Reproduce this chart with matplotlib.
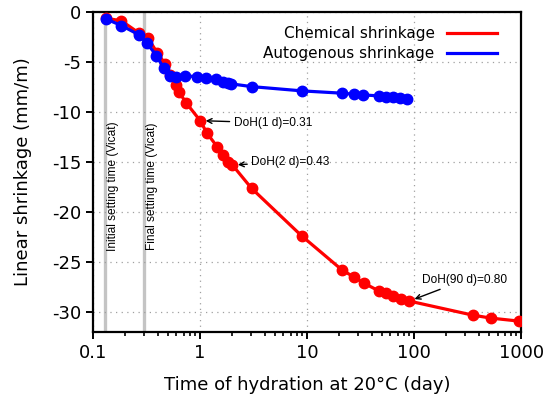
import matplotlib
matplotlib.use("Agg")
from matplotlib import pyplot as plt

plt.rcParams["axes.unicode_minus"] = False

# chemical shrinkage (red)
chem_t = [0.131, 0.184, 0.269, 0.326, 0.396, 0.474, 0.52, 0.59, 0.635, 0.745,
          1.0, 1.16, 1.44, 1.64, 1.82, 2.0, 3.02, 8.85, 21.2, 27.4, 33.8,
          47, 54.3, 63.5, 75, 90, 351, 520, 950]
chem_s = [-0.63, -0.9, -2.13, -2.63, -4.07, -5.23, -6.3, -7.3, -8.03, -9.13,
          -10.87, -12.13, -13.47, -14.3, -14.97, -15.3, -17.63, -22.37, -25.8,
          -26.5, -27.1, -27.9, -28.1, -28.4, -28.7, -28.9, -30.3, -30.6, -30.9]

# autogenous shrinkage (blue)
auto_t = [0.131, 0.184, 0.269, 0.319, 0.390, 0.457, 0.52, 0.60, 0.72, 0.925,
          1.14, 1.42, 1.64, 1.82, 1.96, 3.02, 9.0, 21.3, 27.3, 33.3, 47,
          54.5, 63.5, 73, 86.5]
auto_s = [-0.7, -1.37, -2.3, -3.13, -4.37, -5.63, -6.4, -6.47, -6.4, -6.47,
          -6.63, -6.73, -6.97, -7.07, -7.2, -7.47, -7.9, -8.13, -8.23, -8.3,
          -8.4, -8.47, -8.53, -8.63, -8.7]

# setting times (Vicat)
initial_set = 0.13
final_set = 0.30

doh_notes = [("DoH(1 d)=0.31", 1.0, -10.87, 2.06, -11.1),
             ("DoH(2 d)=0.43", 2.0, -15.3, 3.01, -15.0),
             ("DoH(90 d)=0.80", 90, -28.9, 118, -26.8)]

fig = plt.figure(figsize=(5.51, 4.08), dpi=100)
ax = fig.add_axes([0.169, 0.186, 0.777, 0.785])

ax.axvline(initial_set, color="#c4c4c4", lw=2.4, zorder=1)
ax.axvline(final_set, color="#c4c4c4", lw=2.4, zorder=1)
ax.text(initial_set * 1.17, -17.4, "Initial setting time (Vicat)", rotation=90,
        family="Liberation Sans", fontsize=8.6, ha="center", va="center")
ax.text(final_set * 1.18, -17.4, "Final setting time (Vicat)", rotation=90,
        family="Liberation Sans", fontsize=8.6, ha="center", va="center")

ax.plot(chem_t, chem_s, color="#ff0000", lw=2.3, marker="o", ms=7.5,
        label="Chemical shrinkage", zorder=3)
ax.plot(auto_t, auto_s, color="#0000ff", lw=2.3, marker="o", ms=7.5,
        label="Autogenous shrinkage", zorder=4)

for txt, x, y, tx, ty in doh_notes:
    ax.annotate(txt, xy=(x, y), xytext=(tx, ty), family="Liberation Sans",
                fontsize=8.6, ha="left", va="center",
                arrowprops=dict(arrowstyle="->", color="black", lw=1,
                                shrinkA=1, shrinkB=4))

ax.set_xscale("log")
ax.set_xlim(0.1, 1000)
ax.set_ylim(-32, 0)
ax.set_xticks([0.1, 1, 10, 100, 1000])
ax.set_xticklabels(["0.1", "1", "10", "100", "1000"])
ax.set_yticks([0, -5, -10, -15, -20, -25, -30])
ax.grid(True, which="major", linestyle=(0, (1, 3.5)), color="#a0a0a0", lw=0.9)

for s in ax.spines.values():
    s.set_linewidth(1.6)
ax.tick_params(which="major", length=5, width=1.4, labelsize=13, direction="out")
ax.tick_params(which="minor", length=3, width=1.2)

ax.set_xlabel("Time of hydration at 20\u00b0C (day)", fontsize=13, labelpad=10)
ax.set_ylabel("Linear shrinkage (mm/m)", fontsize=13, labelpad=14)

leg = ax.legend(loc="upper right", bbox_to_anchor=(0.958, 0.975),
                frameon=False, markerfirst=False, fontsize=11,
                handlelength=3.3, borderaxespad=0, labelspacing=0.35)
for h in leg.get_lines():
    h.set_marker("")

fig.savefig("out.png", dpi=100)
